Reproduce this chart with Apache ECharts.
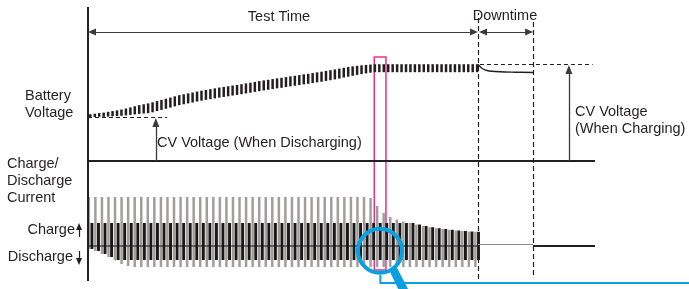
<!DOCTYPE html>
<html><head><meta charset="utf-8">
<script src="https://cdn.jsdelivr.net/npm/echarts@6/dist/echarts.min.js"></script>
<style>html,body{margin:0;padding:0;background:#fff}#c{width:689px;height:289px}</style>
</head><body><div id="c"></div>
<script>
// ---- timing / levels (arbitrary units: time, volts, amps) ----
const testTime = 100;          // end of test time
const downtimeEnd = 114.1;     // end of downtime
const chartEnd = 130;          // right end of base lines
const voltageBase = 3.0;       // voltage panel base line
const cvDischarge = 3.55;      // CV voltage when discharging
const cvCharge = 4.21;         // CV voltage when charging
const chargeHold = 2.3;        // black pulse charge level
const dischargeHold = -1.4;    // black pulse discharge level
const pulseStart = 0.6, pulsePeriod = 1.68;       // current pulses
const voltStart = 0.6, voltPeriod = 1.14;         // voltage pulses

// ---- battery voltage pulses (high / low of each pulse) ----
const voltageHigh = [3.585,3.591,3.599,3.605,3.615,3.624,3.633,3.643,3.656,3.670,
 3.684,3.698,3.709,3.720,3.734,3.749,3.764,3.778,3.793,3.808,
 3.823,3.834,3.845,3.856,3.868,3.879,3.889,3.898,3.908,3.918,
 3.926,3.934,3.943,3.951,3.960,3.970,3.979,3.989,3.999,4.008,
 4.015,4.024,4.033,4.040,4.049,4.058,4.065,4.074,4.083,4.090,
 4.099,4.108,4.116,4.126,4.135,4.145,4.155,4.165,4.174,4.183,
 4.190,4.196,4.201,4.206,4.210,4.210,4.210,4.210,4.210,4.210,
 4.210,4.210,4.210,4.210,4.210,4.210,4.210,4.210,4.210,4.210,
 4.210,4.210,4.210,4.210,4.210,4.210,4.210,4.210];
const voltageLow = [3.549,3.550,3.553,3.552,3.555,3.559,3.562,3.565,3.570,3.576,
 3.583,3.589,3.594,3.597,3.609,3.624,3.639,3.653,3.668,3.683,
 3.698,3.709,3.720,3.731,3.743,3.754,3.764,3.773,3.783,3.793,
 3.801,3.809,3.818,3.826,3.835,3.845,3.854,3.864,3.874,3.883,
 3.890,3.899,3.908,3.915,3.924,3.933,3.940,3.949,3.958,3.965,
 3.974,3.983,3.991,4.001,4.010,4.020,4.030,4.043,4.054,4.065,
 4.076,4.086,4.095,4.104,4.110,4.110,4.110,4.110,4.110,4.110,
 4.110,4.110,4.110,4.110,4.110,4.110,4.110,4.110,4.110,4.110,
 4.110,4.110,4.110,4.110,4.110,4.110,4.110,4.110];
// ---- charge / discharge current pulses ----
const chargeCurrent = [4.9,4.9,4.9,4.9,4.9,4.9,4.9,4.9,4.9,4.9,
 4.9,4.9,4.9,4.9,4.9,4.9,4.9,4.9,4.9,4.9,
 4.9,4.9,4.9,4.9,4.9,4.9,4.9,4.9,4.9,4.9,
 4.9,4.9,4.9,4.9,4.9,4.9,4.9,4.9,4.9,4.9,
 4.9,4.9,4.9,4.8,4.0,3.3,2.9,2.65,2.45,2.3,
 2.15,2.0,1.88,1.78,1.7,1.62,1.55,1.5,1.45,1.42];
const dischargeCurrent = [-0.3,-0.5,-0.8,-1.1,-1.45,-1.8,-2.0,-2.1,-2.1,-2.1,
 -2.1,-2.1,-2.1,-2.1,-2.1,-2.1,-2.1,-2.1,-2.1,-2.1,
 -2.1,-2.1,-2.1,-2.1,-2.1,-2.1,-2.1,-2.1,-2.1,-2.1,
 -2.1,-2.1,-2.1,-2.1,-2.1,-2.1,-2.1,-2.1,-2.1,-2.1,
 -2.1,-2.1,-2.1,-2.1,-2.1,-2.1,-2.1,-2.1,-2.1,-2.1,
 -2.1,-2.1,-2.1,-2.1,-2.1,-2.1,-2.1,-2.1,-2.1,-2.1];
// ---- voltage during downtime ----
const restTime = [100, 100.5, 101.3, 102.3, 103.6, 105.6, 109.5, 114.1];
const restVoltage = [4.206, 4.181, 4.150, 4.131, 4.121, 4.115, 4.110, 4.106];

const ink = '#231f20', pink = '#e6338a', blue = '#0aa0e0';
const FONT = '"Liberation Sans", Arial, Helvetica, sans-serif';
const FS = 14.5;

const tAt = i => pulseStart + i * pulsePeriod;
const vAt = i => voltStart + i * voltPeriod;
const voltData = voltageHigh.map((h, i) => [vAt(i), voltageLow[i], h]);
const grayData = chargeCurrent.map((c, i) => [tAt(i), dischargeCurrent[i], c]);
const blackData = chargeCurrent.map((c, i) => [tAt(i), Math.max(dischargeHold, dischargeCurrent[i]), Math.min(chargeHold, c)]);

function rangeBars(width, offset, color) {
  return function (params, api) {
    const t = api.value(0), lo = api.value(1), hi = api.value(2);
    const a = api.coord([t, hi]), b = api.coord([t, lo]);
    return { type: 'rect', shape: { x: a[0] + offset - width / 2, y: a[1], width: width, height: Math.max(b[1] - a[1], 1.2) }, style: { fill: color } };
  };
}
function seg(p1, p2, style, s1, s2) {
  return [
    Object.assign({ coord: p1, lineStyle: style }, s1 ? { symbol: s1[0], symbolSize: s1[1] } : { symbol: 'none' }),
    Object.assign({ coord: p2, lineStyle: style }, s2 ? { symbol: s2[0], symbolSize: s2[1] } : { symbol: 'none' })
  ];
}
const solid = (w, c) => ({ color: c || ink, width: w, type: 'solid' });
const dashed = (w, d) => ({ color: ink, width: w, type: d || [5, 3] });
const vhead = ['triangle', [7, 9]];
const hhead = ['triangle', [7, 8]];
const smallHead = ['triangle', [6, 7]];
const markBase = { silent: true, animation: false, label: { show: false }, emphasis: { disabled: true }, symbol: 'none' };

const yTime = 4.6125;

const option = {
  animation: false,
  backgroundColor: '#fff',
  grid: { left: 0, right: 0, top: 7, bottom: 0 },
  xAxis: { type: 'value', min: -22.56, max: 154.1, show: false },
  yAxis: [
    { type: 'value', min: 1.4, max: 4.925, show: false },
    { type: 'value', min: -4.3, max: 23.9, show: false }
  ],
  series: [
    { type: 'custom', name: 'Charge pulse', yAxisIndex: 1, data: grayData, encode: { x: 0, y: [1, 2] }, renderItem: rangeBars(2.5, -1.5, '#a19d9d'), silent: true, z: 2 },
    { type: 'custom', name: 'Current', yAxisIndex: 1, data: blackData, encode: { x: 0, y: [1, 2] }, renderItem: rangeBars(2.9, 1.6, '#1a1718'), silent: true, z: 3 },
    { type: 'custom', name: 'Battery Voltage', yAxisIndex: 0, data: voltData, encode: { x: 0, y: [1, 2] }, renderItem: rangeBars(2.5, 0, ink), silent: true, z: 3 },
    {
      type: 'line', name: 'Rest voltage', yAxisIndex: 0, clip: false, z: 4, silent: true,
      data: restTime.map((t, i) => [t, restVoltage[i]]), smooth: 0.4, showSymbol: false,
      lineStyle: { color: ink, width: 1.4 },
      markLine: Object.assign({}, markBase, {
        data: [
          seg([0, 1.5], [0, 4.925], solid(2)),
          seg([0, voltageBase], [chartEnd, voltageBase], solid(2)),
          seg([0, cvDischarge], [20.3, cvDischarge], dashed(1, [4, 3])),
          seg([testTime + 0.5, cvCharge], [129.4, cvCharge], dashed(1, [4, 3])),
          seg([testTime, 1.525], [testTime, 4.85], dashed(1.2)),
          seg([downtimeEnd, 1.575], [downtimeEnd, 4.7625], dashed(1.2)),
          seg([17.4, voltageBase], [17.4, 3.481], solid(1.3, '#3d3a3b'), null, vhead),
          seg([123.3, voltageBase], [123.3, 4.144], solid(1.3, '#3d3a3b'), null, vhead),
          seg([1.03, yTime], [98.97, yTime], solid(1.1, '#3d3a3b'), hhead, hhead),
          seg([101.3, yTime], [113.1, yTime], solid(1.1, '#3d3a3b'), hhead, hhead)
        ]
      }),
      markArea: {
        silent: true, animation: false, label: { show: false },
        itemStyle: { color: 'rgba(0,0,0,0)', borderColor: pink, borderWidth: 1.5 },
        data: [[{ coord: [73.4, 4.3] }, { coord: [76.4, 1.6375] }]]
      }
    },
    {
      type: 'line', name: 'Zero current', yAxisIndex: 1, clip: false, z: 5, silent: true,
      data: [[0, 0], [testTime, 0]], showSymbol: false, lineStyle: { color: '#111', width: 1 },
      markLine: Object.assign({}, markBase, {
        data: [
          seg([testTime, 0.15], [downtimeEnd, 0.15], solid(1.2, '#8a8787')),
          seg([downtimeEnd, 0], [chartEnd, 0], solid(2)),
          seg([-2.3, 0.9], [-2.3, 1.95], solid(1.2), null, smallHead),
          seg([-2.3, -0.5], [-2.3, -1.55], solid(1.2), null, smallHead)
        ]
      })
    },
    {
      type: 'custom', name: 'Magnifier', yAxisIndex: 1, clip: false, z: 20, silent: true,
      data: [[74.87, -0.48]],
      renderItem: function (params, api) {
        const c = api.coord([api.value(0), api.value(1)]);
        const corner = api.coord([74.97, -3.7]);
        const end = api.coord([154.1, -3.7]);
        return {
          type: 'group', children: [
            { type: 'polyline', shape: { points: [[corner[0], corner[1] - 8], [corner[0], corner[1]], [end[0], end[1]]] }, style: { stroke: blue, lineWidth: 2, fill: null } },
            { type: 'polygon', shape: { points: [[c[0] + 9, c[1] + 19], [c[0] + 17, c[1] + 17], [c[0] + 29, c[1] + 40], [c[0] + 20, c[1] + 42]] }, style: { fill: blue } },
            { type: 'circle', shape: { cx: c[0], cy: c[1], r: 22 }, style: { stroke: blue, lineWidth: 4, fill: null } }
          ]
        };
      }
    }
  ],
  graphic: [
    { type: 'text', style: { text: 'Test Time', x: 279, y: 17, textAlign: 'center', textVerticalAlign: 'middle', fontSize: FS, fontFamily: FONT, fill: ink } },
    { type: 'text', style: { text: 'Downtime', x: 505, y: 16, textAlign: 'center', textVerticalAlign: 'middle', fontSize: FS, fontFamily: FONT, fill: ink } },
    { type: 'text', style: { text: 'Battery', x: 25, y: 96, textAlign: 'left', textVerticalAlign: 'middle', fontSize: FS, fontFamily: FONT, fill: ink } },
    { type: 'text', style: { text: 'Voltage', x: 25, y: 113, textAlign: 'left', textVerticalAlign: 'middle', fontSize: FS, fontFamily: FONT, fill: ink } },
    { type: 'text', style: { text: 'CV Voltage (When Discharging)', x: 157, y: 143, textAlign: 'left', textVerticalAlign: 'middle', fontSize: FS, fontFamily: FONT, fill: ink } },
    { type: 'text', style: { text: 'CV Voltage', x: 575, y: 112, textAlign: 'left', textVerticalAlign: 'middle', fontSize: FS, fontFamily: FONT, fill: ink } },
    { type: 'text', style: { text: '(When Charging)', x: 575, y: 129, textAlign: 'left', textVerticalAlign: 'middle', fontSize: FS, fontFamily: FONT, fill: ink } },
    { type: 'text', style: { text: 'Charge/', x: 7, y: 164, textAlign: 'left', textVerticalAlign: 'middle', fontSize: FS, fontFamily: FONT, fill: ink } },
    { type: 'text', style: { text: 'Discharge', x: 7, y: 181, textAlign: 'left', textVerticalAlign: 'middle', fontSize: FS, fontFamily: FONT, fill: ink } },
    { type: 'text', style: { text: 'Current', x: 7, y: 198, textAlign: 'left', textVerticalAlign: 'middle', fontSize: FS, fontFamily: FONT, fill: ink } },
    { type: 'text', style: { text: 'Charge', x: 75, y: 230, textAlign: 'right', textVerticalAlign: 'middle', fontSize: FS, fontFamily: FONT, fill: ink } },
    { type: 'text', style: { text: 'Discharge', x: 73, y: 257, textAlign: 'right', textVerticalAlign: 'middle', fontSize: FS, fontFamily: FONT, fill: ink } }
  ]
};
const chart = echarts.init(document.getElementById('c'));
chart.setOption(option);
</script>
</body></html>
